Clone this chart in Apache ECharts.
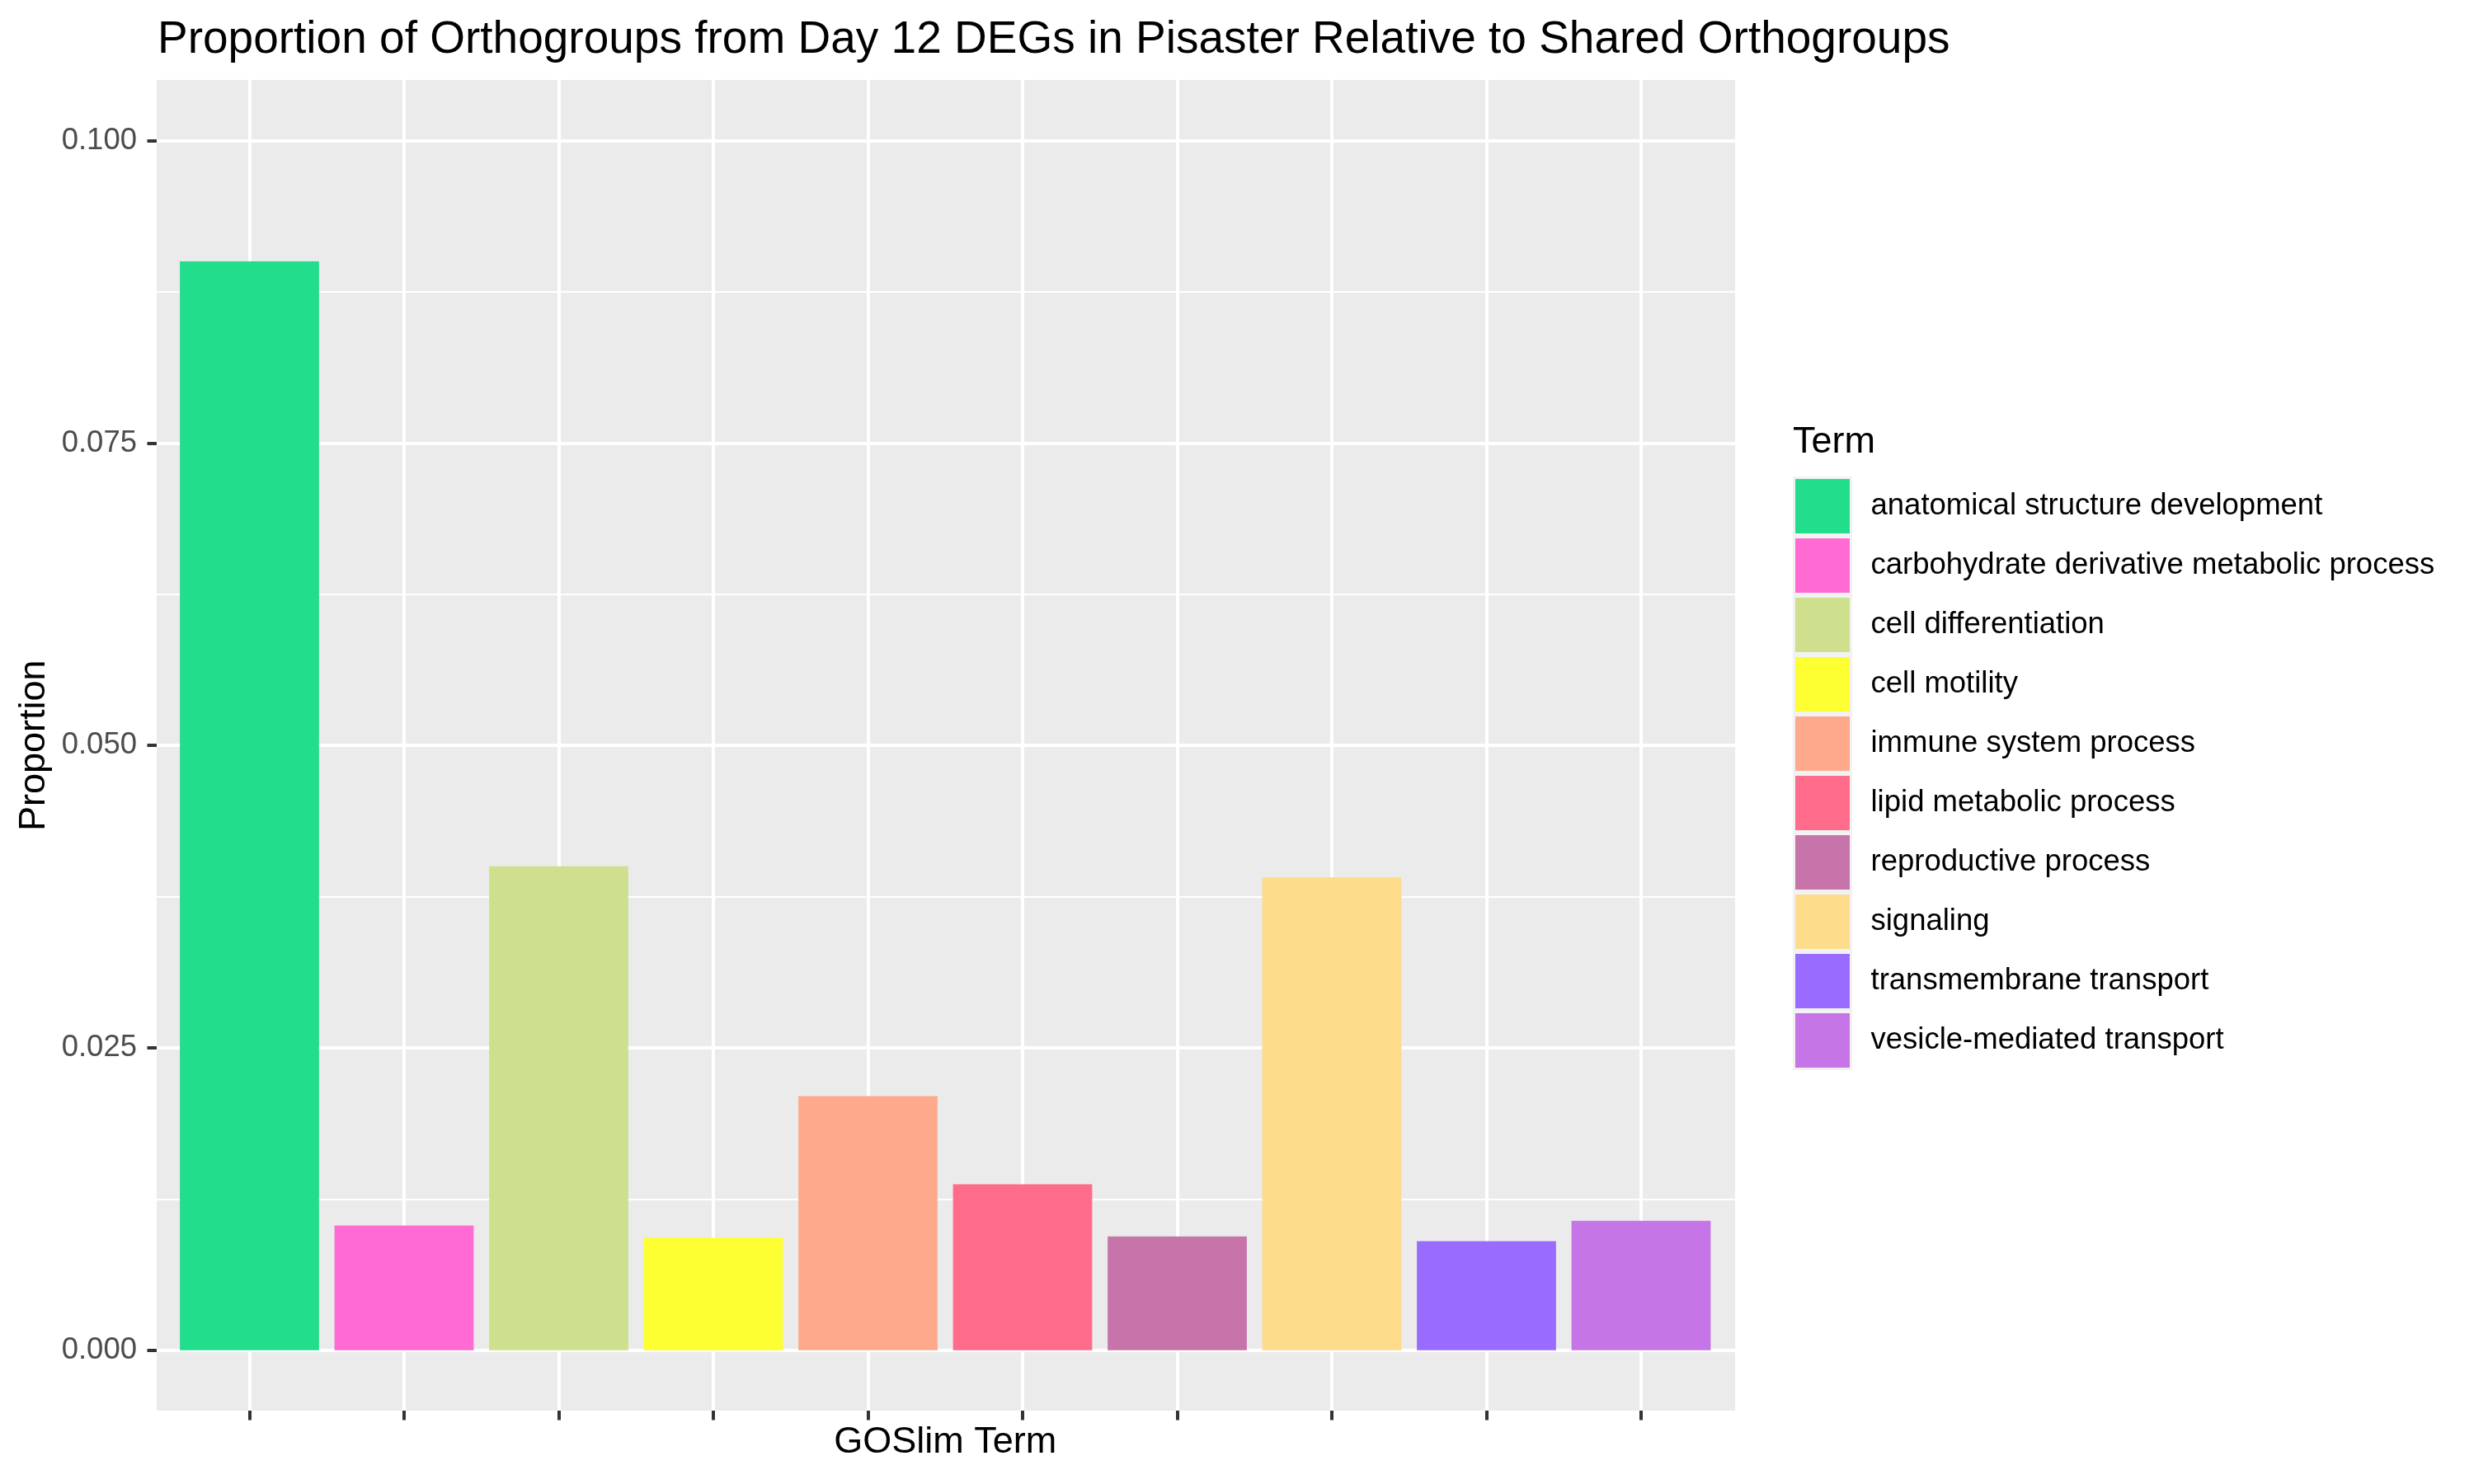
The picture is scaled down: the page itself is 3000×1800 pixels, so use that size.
<!DOCTYPE html>
<html>
<head>
<meta charset="utf-8">
<script src="https://cdn.jsdelivr.net/npm/echarts@6/dist/echarts.min.js"></script>
<style>
  html, body { margin: 0; padding: 0; background: #ffffff; }
  #chart { width: 3000px; height: 1800px; }
</style>
</head>
<body>
<div id="chart"></div>
<script>
// ---- data ----
const terms = [
  "anatomical structure development",
  "carbohydrate derivative metabolic process",
  "cell differentiation",
  "cell motility",
  "immune system process",
  "lipid metabolic process",
  "reproductive process",
  "signaling",
  "transmembrane transport",
  "vesicle-mediated transport"
];
const proportions = [0.0900, 0.0103, 0.0400, 0.0093, 0.0210, 0.0137, 0.0094, 0.0391, 0.0090, 0.0107];
const termColors = ["#22DE8C", "#FF6BD3", "#CEDF8D", "#FDFF33", "#FEA98C", "#FF6B8A", "#C774AB", "#FDDD8C", "#9A6BFF", "#C575E6"];
const yTicks = [0, 0.025, 0.05, 0.075, 0.1];

const chart = echarts.init(document.getElementById('chart'), null, { renderer: 'canvas' });
const FONT = "'Liberation Sans', Arial, Helvetica, sans-serif";

const series = terms.map((t, i) => ({
  name: t,
  type: 'bar',
  stack: 'total',
  xAxisIndex: 2,
  yAxisIndex: 2,
  barWidth: '90%',
  clip: false,
  itemStyle: { color: termColors[i] },
  emphasis: { disabled: true },
  data: terms.map((_, j) => (j === i ? proportions[i] : '-'))
}));

const option = {
  backgroundColor: '#ffffff',
  animation: false,
  title: [
    {
      text: 'Proportion of Orthogroups from Day 12 DEGs in Pisaster Relative to Shared Orthogroups',
      left: 191, top: 21, padding: 0,
      textStyle: { fontFamily: FONT, fontSize: 55, fontWeight: 'normal', color: '#000000' }
    },
    {
      text: 'Term',
      left: 2174, top: 514, padding: 0,
      textStyle: { fontFamily: FONT, fontSize: 45, fontWeight: 'normal', color: '#000000' }
    }
  ],
  legend: {
    orient: 'vertical',
    left: 2174, top: 578,
    padding: 0,
    itemWidth: 69, itemHeight: 69, itemGap: 0,
    icon: 'rect',
    selectedMode: false,
    itemStyle: { borderColor: '#F2F2F2', borderWidth: 3 },
    textStyle: { fontFamily: FONT, fontSize: 36.5, color: '#000000', padding: [0, 0, 0, 19] },
    data: terms
  },
  grid: [
    { left: 190, top: 97, width: 1914, height: 1614, show: true, backgroundColor: '#EBEBEB', borderWidth: 0, containLabel: false },
    { left: 190, top: 170.7, width: 1914, height: 1467, containLabel: false },
    { left: 302.5, top: 97, width: 1687.5, height: 1614, containLabel: false }
  ],
  xAxis: [
    { gridIndex: 0, type: 'value', show: false },
    { gridIndex: 1, type: 'value', show: false },
    {
      gridIndex: 2, type: 'category', data: terms, boundaryGap: false, position: 'bottom',
      axisLine: { show: false, onZero: false },
      axisTick: { show: true, interval: 0, length: 11.5, lineStyle: { color: '#333333', width: 4 } },
      axisLabel: { show: false, interval: 0 },
      splitLine: { show: true, interval: 0, lineStyle: { color: '#ffffff', width: 4 } },
      name: 'GOSlim Term', nameLocation: 'middle', nameGap: 16,
      nameTextStyle: { fontFamily: FONT, fontSize: 45, color: '#000000', verticalAlign: 'top' }
    }
  ],
  yAxis: [
    { gridIndex: 0, type: 'value', show: false },
    {
      gridIndex: 1, type: 'value', min: 0, max: 0.1, interval: 0.025,
      axisLine: { show: false, onZero: false },
      axisTick: { show: true, length: 11.5, lineStyle: { color: '#333333', width: 4 } },
      axisLabel: {
        margin: 24, fontFamily: FONT, fontSize: 36.5, color: '#4D4D4D',
        customValues: yTicks,
        formatter: v => v.toFixed(3)
      },
      splitLine: { show: true, lineStyle: { color: '#ffffff', width: 4 } },
      minorTick: { show: false, splitNumber: 2 },
      minorSplitLine: { show: true, lineStyle: { color: '#ffffff', width: 2 } },
      name: 'Proportion', nameLocation: 'middle', nameRotate: 90, nameGap: 126,
      nameTextStyle: { fontFamily: FONT, fontSize: 45, color: '#000000' }
    },
    { gridIndex: 2, type: 'value', min: -0.005, max: 0.105, show: false }
  ],
  series: series
};

chart.setOption(option);
</script>
</body>
</html>
